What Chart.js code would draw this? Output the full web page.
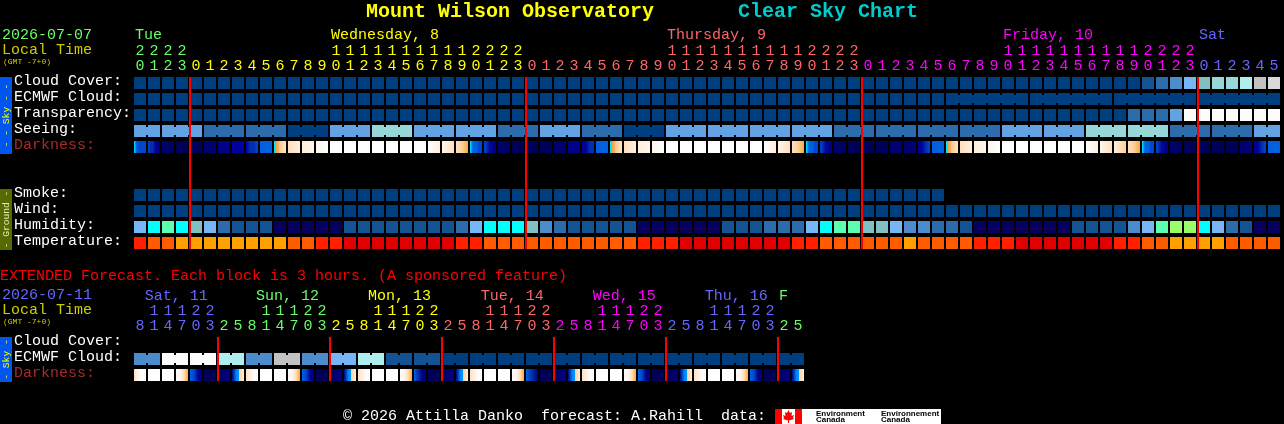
<!DOCTYPE html>
<html>
<head>
<meta charset="utf-8">
<title>Mount Wilson Observatory Clear Sky Chart</title>
<script src="https://cdn.jsdelivr.net/npm/chart.js@4/dist/chart.umd.min.js"></script>
<style>
    html, body { margin: 0; padding: 0; background: #000; overflow: hidden; }
    canvas { position: absolute; left: 0; }
    #hourly { top: 0; }
    #extended { top: 264px; }
</style>
</head>
<body>
<canvas id="hourly" width="1284" height="264"></canvas>
<canvas id="extended" width="1284" height="160"></canvas>
<script>
// hourly section, one value per block
const hours = [20,21,22,23,
    0,1,2,3,4,5,6,7,8,9,10,11,12,13,14,15,16,17,18,19,20,21,22,23,
    0,1,2,3,4,5,6,7,8,9,10,11,12,13,14,15,16,17,18,19,20,21,22,23,
    0,1,2,3,4,5,6,7,8,9,10,11,12,13,14,15,16,17,18,19,20,21,22,23,
    0,1,2,3,4,5];
const cloudCover = [0,0,0,0,0,0,0,0,0,0,0,0,0,0,0,0,0,0,0,0,0,0,0,0,0,0,0,0,0,0,0,0,0,0,0,0,0,0,0,0,0,0,0,0,0,0,0,0,0,0,0,0,0,0,0,0,0,0,0,0,0,0,0,0,0,0,0,0,0,0,0,0,1,2,3,5,6,7,7,8,9,10];
const ecmwfCloud = [0,0,0,0,0,0,0,0,0,0,0,0,0,0,0,0,0,0,0,0,0,0,0,0,0,0,0,0,0,0,0,0,0,0,0,0,0,0,0,0,0,0,0,0,0,0,0,0,0,0,0,0,0,0,0,0,0,0,0,0,0,0,0,0,0,0,0,0,0,0,0,0,0,0,0,0,0,0,0,0,0,0];
const ecmwfLinked = [58,59,60,61,62,64,65,66,67,68,70,71,72,73,74,76,77,78,79,80];
const transparency = [0,0,0,0,0,0,0,0,0,0,0,0,0,0,0,0,0,0,0,0,0,0,0,0,0,0,0,0,0,0,0,0,0,0,0,0,0,0,0,0,0,0,0,0,0,0,0,0,0,0,0,0,0,0,0,0,0,0,0,0,0,0,0,0,0,0,0,0,0,0,0,2,2,2,4,11,11,11,11,11,11,11];
const seeing = [4,4, 4,4,4, 2,2,2, 2,2,2, 0,0,0, 4,4,4, 7,7,7, 4,4,4, 4,4,4, 2,2,2, 4,4,4, 2,2,2, 0,0,0, 4,4,4, 4,4,4, 4,4,4, 4,4,4, 2,2,2, 2,2,2, 2,2,2, 2,2,2, 4,4,4, 4,4,4, 7,7,7, 7,7,7, 2,2,2, 2,2,2, 4,4];
const seeingLinked = [0,2,3,5,6,8,9,11,12,14,15,17,18,20,21,23,24,26,27,29,30,32,33,35,36,38,39,41,42,44,45,47,48,50,51,53,54,56,57,59,60,62,63,65,66,68,69,71,72,74,75,77,78,80];
const darkness = [
    [6,7,8,8,8,8],[8,9,9,10,11,12],[12,13],[13],[13],[12],[11],[10],[10,9,9,8],[7],[6,5,5,4,4,3,3],[3,2],[2,1],[1,0],
    [0],[0],[0],[0],[0],[0],[0],[0,2],[1,3],[3,4,5],
    [6,7,7,8,8],[8,9,10,11,12],[12,13],[13],[13],[13],[12],[11],[11,10,9,9],[7],[6,5,5,4,4,3,3],[3,2],[2,1],[1,0],
    [0],[0],[0],[0],[0],[0],[0],[0,2],[1,3],[3,4,5],
    [6,7,7,8,8],[8,9,10,11,12],[12,13],[13],[13],[13],[12],[12],[11,10,9,8],[7],[6,5,5,4,4,3,3],[3,2],[2,1],[1,0],
    [0],[0],[0],[0],[0],[0],[0,2],[1,3],[2,4],[3,4,5],
    [6,7,7,8,8],[8,9,10,11,12],[12,13],[13],[13],[13],[13],[12],[11,10,9,8],[7]
];
const smoke = [0,0,0,0,0,0,0,0,0,0, 0,0,0,0,0,0,0,0,0,0, 0,0,0,0,0,0,0,0,0,0, 0,0,0,0,0,0,0,0,0,0, 0,0,0,0,0,0,0,0,0,0, 0,0,0,0,0,0,0,0];
const wind = [0,0,0,0,0,0,0,0,0,0,0,0,0,0,0,0,0,0,0,0,0,0,0,0,0,0,0,0,0,0,0,0,0,0,0,0,0,0,0,0,0,0,0,0,0,0,0,0,0,0,0,0,0,0,0,0,0,0,0,0,0,0,0,0,0,0,0,0,0,0,0,0,0,0,0,0,0,0,0,0,0,0];
const humidity = [4,6,7,6,5,4,2,1,1,1,0,0,0,0,0,1,1,1,1,1,1,1,1,2,4,6,6,6,5,3,2,1,1,1,1,1,0,0,0,0,0,0,1,1,1,2,2,2,4,6,7,7,5,5,4,3,3,2,2,1,0,0,0,0,0,0,0,1,1,1,1,3,4,7,8,8,6,4,2,1,0,0];
const temperature = [1,2,2,3,3,3,3,3,3,3,3,2,2,1,1,0,0,0,0,0,0,0,0,1,1,2,2,2,2,2,2,2,2,2,2,2,1,1,1,0,0,0,0,0,0,0,0,1,1,2,2,2,2,2,2,3,2,2,2,2,1,1,1,0,0,0,0,0,0,0,1,1,2,2,3,3,3,3,2,2,2,2];

const hourlyRows = ['Cloud Cover:','ECMWF Cloud:','Transparency:','Seeing:','Darkness:','','','Smoke:','Wind:','Humidity:','Temperature:'];
const hourlyDays = ['Tue','Wednesday, 8','Thursday, 9','Friday, 10','Sat'];
const hourlyDayCols = [0,14,38,62,76];

// extended section, each block is 3 hours
const extHours = [8,11,14,17,20,23,
    2,5,8,11,14,17,20,23, 2,5,8,11,14,17,20,23, 2,5,8,11,14,17,20,23,
    2,5,8,11,14,17,20,23, 2,5,8,11,14,17,20,23, 2,5];
const extCloud = [3,3,11,11,11,11,8,8,3,3,9,9,3,3,5,5,8,8,1,1,1,1,0,0,0,0,0,0,0,0,0,0,0,0,0,0,0,0,0,0,0,0,0,0,0,0,0,0];
const extLinked = [0,2,4,6,8,10,12,14,16,18,20,22,24,26,28,30,32,34,36,38,40,42,44,46];
const extDarkness = [
    [3,1,0,0],[0],[0],[0,1,3,5],[7,8,10,12],[13],[13,12,11],[11,8,14,4,3,2],
    [3,1,0],[0],[0],[0,1,3,5],[7,8,10,12],[13],[13,12,11],[11,8,14,4,3,2],
    [3,1,0],[0],[0],[0,1,3,5],[7,9,11,12],[13],[13,12,11],[11,8,14,4,3,2],
    [3,1,0],[0],[0],[0,1,3,5],[7,9,12],[13],[13,12,11],[11,8,14,4,3,2],
    [3,1,0],[0],[0],[0,1,3,5],[7,8,11,12],[13],[13,12],[11,8,14,4,3,2],
    [3,1,0],[0],[0],[0,1,3,5],[7,8,11,12],[13],[13,12,11],[11,8,14,4,3,2]
];
const extRows = ['Cloud Cover:','ECMWF Cloud:','Darkness:'];
const extDays = ['Sat, 11','Sun, 12','Mon, 13','Tue, 14','Wed, 15','Thu, 16','F'];
const extDayCols = [0.7,8.65,16.65,24.7,32.7,40.7,46];

// colores de cada nivel
const skyColors = ['#003f7f','#135393','#2c6cac','#4c8ccc','#63a3e3','#76b6f6','#80c0c0','#97d7d7','#aeeeee','#c2c2c2','#dadada','#fcfcfc'];
const darkColors = ['#ffffff','#fff6ec','#ffeedd','#ffdfbf','#ffcf99','#f5a945','#00e5ff','#0060e0','#0048c8','#0030b0','#0000a0','#000088','#000070','#00005a','#0090ff'];
const humidityColors = ['#08005f','#135393','#2c6cac','#4c8ccc','#76b6f6','#80c0c0','#00ffff','#5cffb0','#99ff66'];
const tempColors = ['#e00000','#ff2000','#ff5c00','#ff9f00'];
const hourlyDayColors = ['#66ff66','#ffff00','#ff6666','#ff00ff','#6666ff'];
const extDayColors = ['#6666ff','#66ff66','#ffff00','#ff6666','#ff00ff','#6666ff','#66ff66'];

const MONO = '"Liberation Mono", "DejaVu Sans Mono", monospace';
const CELL = 12 / 14; // ancho del bloque dentro de la columna

// Filas de bloques: una barra flotante por cada hora
function cellRow(row, values, colors) {
    return {
        type: 'bar',
        order: 2,
        data: values.map((v, i) => ({ y: row, x: [i, i + CELL], v: v })),
        backgroundColor: ctx => ctx.raw ? colors[ctx.raw.v] : '#000',
        barThickness: 12,
        inflateAmount: 0,
        borderWidth: 0
    };
}
// Union angosta entre bloques del mismo periodo
function linkRow(row, values, linked, colors) {
    return {
        type: 'bar',
        order: 2,
        data: linked.map(i => ({ y: row, x: [i + CELL - 0.02, i + 1.02], v: values[i] })),
        backgroundColor: ctx => ctx.raw ? colors[ctx.raw.v] : '#000',
        barThickness: 8,
        inflateAmount: 0,
        borderWidth: 0
    };
}
// La oscuridad cambia dentro del bloque, se pinta con degradado
function darkRow(row, stops) {
    return {
        type: 'bar',
        order: 2,
        data: stops.map((s, i) => ({ y: row, x: [i, i + CELL], s: s })),
        backgroundColor: ctx => {
            if (!ctx.raw) return '#000';
            const s = ctx.raw.s;
            const xs = ctx.chart.scales.x;
            const x0 = xs ? xs.getPixelForValue(ctx.raw.x[0]) : NaN;
            const x1 = xs ? xs.getPixelForValue(ctx.raw.x[1]) : NaN;
            if (s.length === 1 || !isFinite(x0) || !isFinite(x1)) return darkColors[s[0]];
            const g = ctx.chart.ctx.createLinearGradient(x0, 0, x1, 0);
            s.forEach((lvl, k) => {
                const p = k / (s.length - 1);
                // del azul al naranja el salto es seco, sin tonos grises
                if (k > 0 && s[k - 1] >= 6 && lvl < 6) g.addColorStop(p, darkColors[s[k - 1]]);
                g.addColorStop(p, darkColors[lvl]);
            });
            return g;
        },
        barThickness: 12,
        inflateAmount: 0,
        borderWidth: 0
    };
}
// Linea roja de medianoche
function midnightLines(cols, span) {
    return cols.map(c => ({
        type: 'line',
        order: 0,
        xAxisID: 'x',
        yAxisID: 'span',
        data: [{ x: c, y: span[0] }, { x: c, y: span[1] }],
        borderColor: '#ff0000',
        borderWidth: 2,
        pointRadius: 0
    }));
}
// Columna donde empieza cada dia: la hora vuelve a bajar
function dayOfColumn(hrs) {
    let d = 0;
    return hrs.map((h, i) => {
        if (i > 0 && h < hrs[i - 1]) d++;
        return d;
    });
}
function midnightCols(hrs) {
    return hrs.map((h, i) => (i > 0 && h < hrs[i - 1]) ? i : -1).filter(i => i >= 0);
}

function drawText(c, t) {
    c.save();
    c.font = t.font || ('15px ' + MONO);
    c.fillStyle = t.color;
    c.textBaseline = 'middle';
    c.textAlign = t.align || 'left';
    c.translate(t.x, t.y);
    if (t.rot) c.rotate(t.rot);
    c.fillText(t.text, 0, 0);
    c.restore();
}

function drawStrip(c, s) {
    c.fillStyle = s.bg;
    c.fillRect(0, s.top, 12, s.bottom - s.top);
    drawText(c, { text: s.text, x: 6, y: (s.top + s.bottom) / 2, color: s.fg, align: 'center', rot: -Math.PI / 2, font: '9.6px ' + MONO });
}

function drawLogo(c) {
    c.fillStyle = '#fff';
    c.fillRect(775, 145, 166, 15);
    c.fillStyle = '#ff0000';
    c.fillRect(775, 145, 7, 15);
    c.fillRect(795, 145, 7, 15);
    // hoja de arce
    c.beginPath();
    [[788.5,146],[790,149],[792,148],[791.5,152],[794,151],[793,154],[794,155],[789,156.5],[789,159],[788,159],[788,156.5],[783,155],[784,154],[783,151],[785.5,152],[785,148],[787,149]]
        .forEach((p, i) => i ? c.lineTo(p[0], p[1]) : c.moveTo(p[0], p[1]));
    c.closePath();
    c.fill();
    const f = 'bold 8px "Liberation Sans", sans-serif';
    drawText(c, { text: 'Environment', x: 816, y: 149.5, color: '#000', font: f });
    drawText(c, { text: 'Canada', x: 816, y: 156, color: '#000', font: f });
    drawText(c, { text: 'Environnement', x: 881, y: 149.5, color: '#000', font: f });
    drawText(c, { text: 'Canada', x: 881, y: 156, color: '#000', font: f });
}

function buildChart(id, cfg) {
    const dayCol = dayOfColumn(cfg.hours);
    const decor = {
        id: 'decor',
        afterDraw(chart) {
            const c = chart.ctx;
            const xs = chart.scales.x;
            cfg.days.forEach((d, i) => drawText(c, { text: d, x: xs.getPixelForValue(cfg.dayCols[i]) + 1, y: cfg.dayY, color: cfg.dayColors[i] }));
            cfg.texts.forEach(t => drawText(c, t));
            cfg.strips.forEach(s => drawStrip(c, s));
            if (cfg.logo) drawLogo(c);
        }
    };
    return new Chart(document.getElementById(id), {
        data: { labels: cfg.rows, datasets: cfg.datasets.concat(midnightLines(midnightCols(cfg.hours), cfg.span)) },
        plugins: [decor],
        options: {
            indexAxis: 'y',
            responsive: false,
            animation: false,
            devicePixelRatio: 1,
            events: [],
            layout: { padding: { left: 14, right: cfg.right, top: 0, bottom: cfg.bottom } },
            plugins: { legend: { display: false }, tooltip: { enabled: false } },
            datasets: { bar: { grouped: false } },
            scales: {
                x: {
                    type: 'linear',
                    position: 'top',
                    min: 0,
                    max: cfg.hours.length,
                    grid: { display: false },
                    border: { display: false },
                    afterBuildTicks(scale) {
                        scale.ticks = cfg.hours.map((h, i) => ({ value: i + CELL / 2 }));
                    },
                    afterFit(scale) { scale.height = cfg.top; },
                    ticks: {
                        autoSkip: false,
                        maxRotation: 0,
                        padding: cfg.tickPad,
                        font: { family: MONO, size: 15, lineHeight: 1 },
                        color: ctx => cfg.dayColors[dayCol[ctx.index]],
                        callback: (v, i) => {
                            const h = cfg.hours[i];
                            return [h >= 10 ? String(h)[0] : '', String(h % 10)];
                        }
                    }
                },
                y: {
                    type: 'category',
                    offset: true,
                    grid: { display: false },
                    border: { display: false },
                    afterFit(scale) { scale.width = 120; },
                    ticks: {
                        autoSkip: false,
                        crossAlign: 'far',
                        padding: 0,
                        labelOffset: -2,
                        font: { family: MONO, size: 15, lineHeight: 1 },
                        color: ctx => cfg.rows[ctx.index] === 'Darkness:' ? '#a52a2a' : '#ffffff'
                    }
                },
                span: { type: 'linear', display: false, position: 'right', min: 0, max: 1 }
            }
        }
    });
}

buildChart('hourly', {
    hours: hours,
    rows: hourlyRows,
    days: hourlyDays,
    dayCols: hourlyDayCols,
    dayColors: hourlyDayColors,
    dayY: 35,
    top: 75,
    bottom: 13,
    right: 2,
    tickPad: -7,
    span: [0.012, 0.988],
    logo: false,
    datasets: [
        cellRow('Cloud Cover:', cloudCover, skyColors),
        cellRow('ECMWF Cloud:', ecmwfCloud, skyColors),
        linkRow('ECMWF Cloud:', ecmwfCloud, ecmwfLinked, skyColors),
        cellRow('Transparency:', transparency, skyColors),
        cellRow('Seeing:', seeing, skyColors),
        linkRow('Seeing:', seeing, seeingLinked, skyColors),
        darkRow('Darkness:', darkness),
        cellRow('Smoke:', smoke, skyColors),
        cellRow('Wind:', wind, skyColors),
        cellRow('Humidity:', humidity, humidityColors),
        cellRow('Temperature:', temperature, tempColors)
    ],
    texts: [
        { text: 'Mount Wilson Observatory', x: 366, y: 12, color: '#ffff00', font: 'bold 20px ' + MONO },
        { text: 'Clear Sky Chart', x: 738, y: 12, color: '#00cccc', font: 'bold 20px ' + MONO },
        { text: '2026-07-07', x: 2, y: 35, color: '#66ff66' },
        { text: 'Local Time', x: 2, y: 50, color: '#cccc00' },
        { text: '(GMT -7+0)', x: 3, y: 62, color: '#cccc00', font: '8px ' + MONO }
    ],
    strips: [
        { top: 77, bottom: 154, bg: '#0055ee', fg: '#ffff00', text: '- - Sky - -' },
        { top: 189, bottom: 250, bg: '#556b00', fg: '#e0e8b0', text: '- Ground -' }
    ]
});

buildChart('extended', {
    hours: extHours,
    rows: extRows,
    days: extDays,
    dayCols: extDayCols,
    dayColors: extDayColors,
    dayY: 32,
    top: 71,
    bottom: 41,
    right: 478,
    tickPad: -7,
    span: [0.04, 0.96],
    logo: true,
    datasets: [
        cellRow('ECMWF Cloud:', extCloud, skyColors),
        linkRow('ECMWF Cloud:', extCloud, extLinked, skyColors),
        darkRow('Darkness:', extDarkness)
    ],
    texts: [
        { text: 'EXTENDED Forecast. Each block is 3 hours. (A sponsored feature)', x: 0, y: 12, color: '#ff0000' },
        { text: '2026-07-11', x: 2, y: 31, color: '#6666ff' },
        { text: 'Local Time', x: 2, y: 46, color: '#cccc00' },
        { text: '(GMT -7+0)', x: 3, y: 58, color: '#cccc00', font: '8px ' + MONO },
        { text: '\u00a9 2026 Attilla Danko  forecast: A.Rahill  data:', x: 343, y: 152, color: '#ffffff' }
    ],
    strips: [
        { top: 73, bottom: 118, bg: '#0055ee', fg: '#ffff00', text: '- Sky -' }
    ]
});
</script>
</body>
</html>
